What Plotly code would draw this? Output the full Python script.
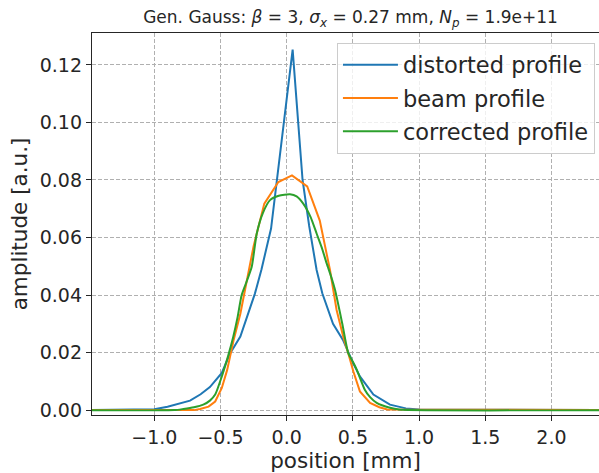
import plotly.graph_objects as go

# distorted profile (blue)
dist_x = [-1.50, -1.00, -0.90, -0.80, -0.73, -0.65, -0.58, -0.49, -0.43, -0.35, -0.29, -0.24,
          -0.19, -0.118, 0.045, 0.12, 0.17, 0.226, 0.269, 0.35, 0.425, 0.50, 0.553, 0.655,
          0.78, 0.90, 1.00, 2.40]
dist_y = [0.0, 0.0003, 0.0012, 0.0023, 0.0033, 0.0055, 0.0080, 0.0129, 0.0195, 0.0256, 0.0337,
          0.0405, 0.0490, 0.0631, 0.1253, 0.0800, 0.0640, 0.0487, 0.0406, 0.0300, 0.0244,
          0.0165, 0.0117, 0.0054, 0.0019, 0.0006, 0.0002, 0.0]

# beam profile (orange)
beam_x = [-1.50, -0.70, -0.654, -0.59, -0.54, -0.49, -0.45, -0.40, -0.35, -0.30, -0.25, -0.169,
          -0.063, 0.04, 0.155, 0.25, 0.276, 0.327, 0.377, 0.43, 0.465, 0.503, 0.553, 0.63,
          0.70, 0.76, 2.40]
beam_y = [0.0, 0.0, 0.0004, 0.0012, 0.0030, 0.0077, 0.0139, 0.0245, 0.0335, 0.0455, 0.0570,
          0.0718, 0.0793, 0.0816, 0.0778, 0.0659, 0.0602, 0.0487, 0.0348, 0.0250, 0.0198,
          0.0135, 0.0065, 0.0025, 0.0010, 0.0002, 0.0]

# corrected profile (green)
corr_x = [-1.50, -0.85, -0.78, -0.70, -0.63, -0.58, -0.54, -0.49, -0.44, -0.403, -0.37, -0.34,
          -0.30, -0.264, -0.226, -0.18, -0.126, -0.06, 0.025, 0.075, 0.125, 0.18, 0.226, 0.265,
          0.302, 0.335, 0.365, 0.42, 0.465, 0.50, 0.53, 0.59, 0.63, 0.68, 0.78, 0.85, 2.40]
corr_y = [0.0, 0.0, 0.0004, 0.0010, 0.0019, 0.0033, 0.0054, 0.0117, 0.0192, 0.0256, 0.0325,
          0.0400, 0.0450, 0.0498, 0.0614, 0.0685, 0.0730, 0.0745, 0.0750, 0.0743, 0.0718,
          0.0672, 0.0614, 0.0565, 0.0510, 0.0465, 0.0418, 0.0300, 0.0198, 0.0168, 0.0140,
          0.0071, 0.0045, 0.0025, 0.0008, 0.0002, 0.0]

x_ticks = [-1.0, -0.5, 0.0, 0.5, 1.0, 1.5, 2.0]
y_ticks = [0.00, 0.02, 0.04, 0.06, 0.08, 0.10, 0.12]

FONT = "DejaVu Sans"
AX = "#262626"
GRID = "#b0b0b0"

fig = go.Figure()
fig.add_trace(go.Scatter(x=dist_x, y=dist_y, mode="lines", name="distorted profile",
                         legendgroup="a", line=dict(color="#1f77b4", width=2)))
fig.add_trace(go.Scatter(x=beam_x, y=beam_y, mode="lines", name="beam profile",
                         legendgroup="b", line=dict(color="#ff7f0e", width=2)))
fig.add_trace(go.Scatter(x=corr_x, y=corr_y, mode="lines", name="corrected profile",
                         legendgroup="c",
                         line=dict(color="#2ca02c", width=2, shape="spline", smoothing=0.6)))

fig.update_layout(
    width=599, height=473,
    margin=dict(l=92, r=0, t=33, b=58),
    plot_bgcolor="white", paper_bgcolor="white",
    font=dict(family=FONT, color="#262626"),
    title=dict(
        text="Gen. Gauss: <i>β</i> = 3, <i>σ<sub>x</sub></i> = 0.27 mm, <i>N<sub>p</sub></i> = 1.9e+11",
        font=dict(family=FONT, size=17, color="#262626"),
        xref="paper", x=0.51, xanchor="center",
        yref="container", y=1 - 17 / 473, yanchor="middle",
    ),
    legend=dict(
        x=0.992, xanchor="right", y=0.975, yanchor="top",
        font=dict(family=FONT, size=22.5, color="#262626"),
        bordercolor="#cccccc", borderwidth=1, bgcolor="rgba(255,255,255,0.8)",
        tracegroupgap=1, itemwidth=55,
    ),
    showlegend=True,
)

fig.update_xaxes(
    range=[-1.4705, 2.359], tickvals=x_ticks, tickformat=".1f",
    showgrid=True, gridcolor=GRID, griddash="4px,2px", gridwidth=1, zeroline=False,
    showline=True, mirror=True, linecolor=AX, linewidth=1.3,
    ticks="outside", ticklen=5, tickwidth=1.3, tickcolor=AX,
    tickfont=dict(family=FONT, size=19, color="#262626"),
    title=dict(text="position [mm]", font=dict(family=FONT, size=21.5, color="#262626"), standoff=2),
)
fig.update_yaxes(
    range=[-0.0017, 0.1311], tickvals=y_ticks, tickformat=".2f",
    showgrid=True, gridcolor=GRID, griddash="4px,2px", gridwidth=1, zeroline=False,
    showline=True, mirror=True, linecolor=AX, linewidth=1.3,
    ticks="outside", ticklen=5, tickwidth=1.3, tickcolor=AX,
    tickfont=dict(family=FONT, size=19, color="#262626"),
    title=dict(text="amplitude [a.u.]", font=dict(family=FONT, size=21.5, color="#262626"), standoff=6),
)

fig.write_html("out.html")
